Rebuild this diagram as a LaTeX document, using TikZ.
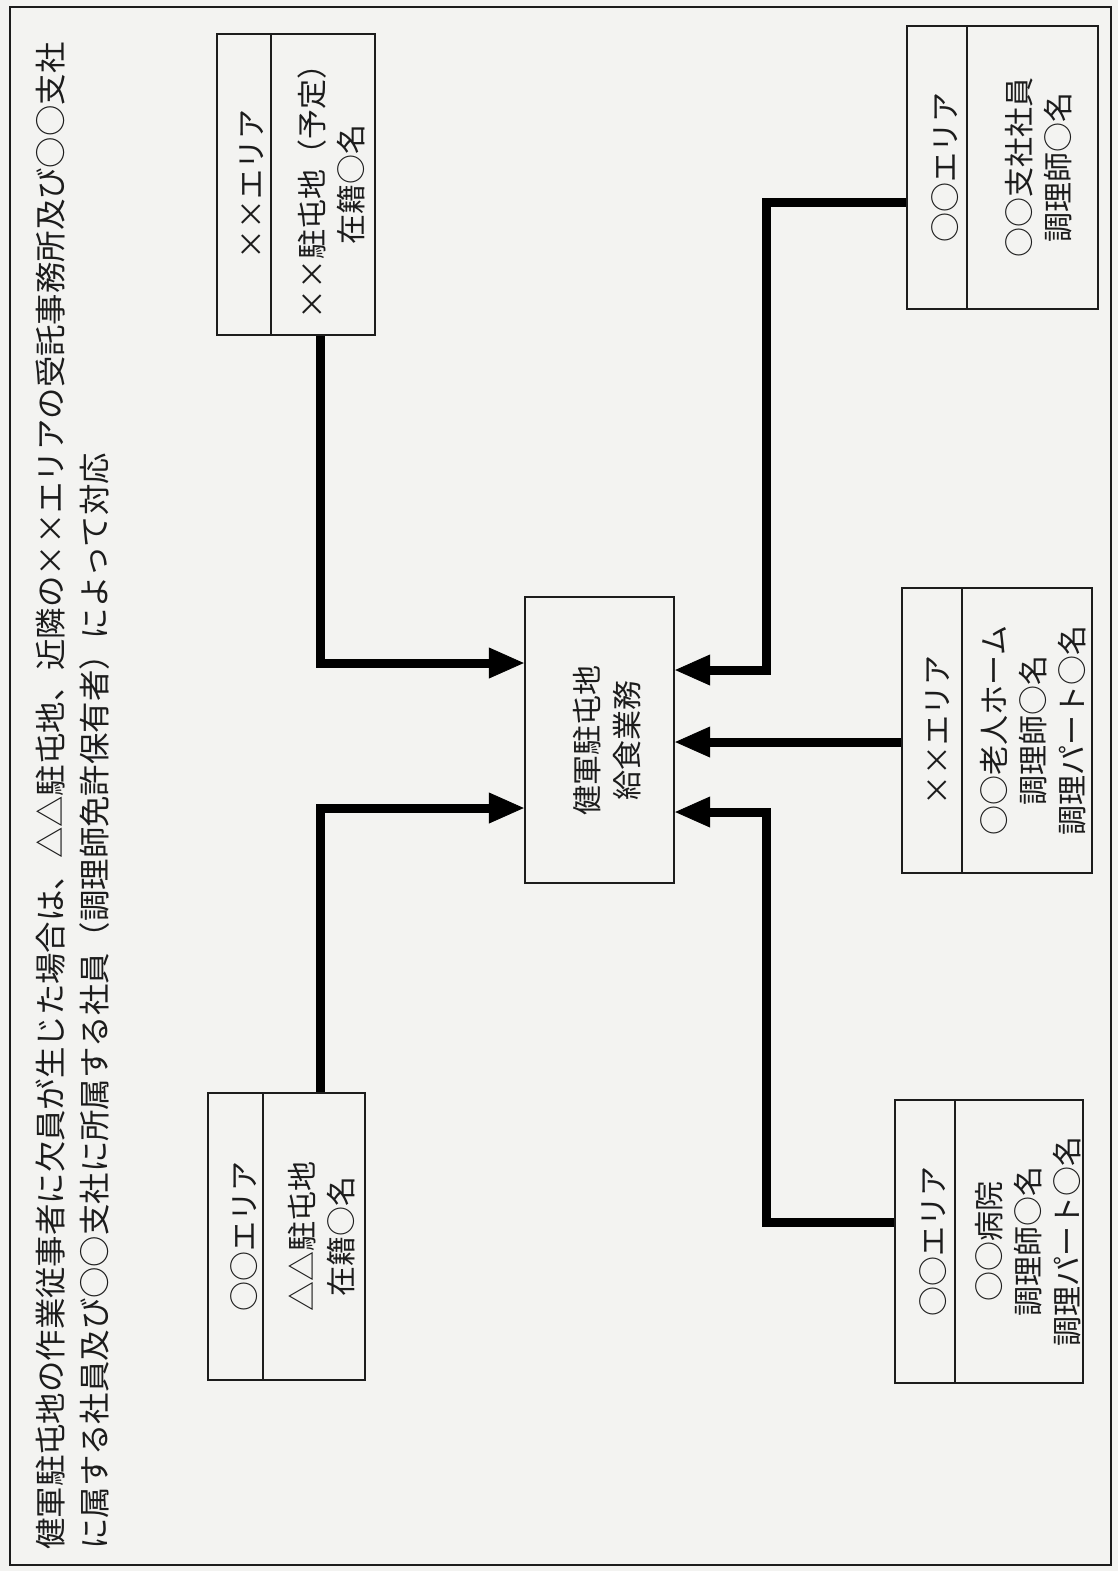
\documentclass[tikz,border=0pt]{standalone}
\usepackage{fontspec}
\setmainfont[CharacterWidth=Full]{Noto Sans CJK JP}
\usetikzlibrary{arrows.meta}
\definecolor{paper}{RGB}{243,243,241}
\definecolor{ink}{RGB}{28,28,28}
\begin{document}
\begin{tikzpicture}[x=0.5pt,y=-0.5pt,
  boxpart/.style={draw=ink,line width=1.2pt,inner sep=0pt},
  lbl/.style={rotate=90,align=center,inner sep=0pt,text=ink,font=\fontsize{15}{19.5}\selectfont},
  ttl/.style={rotate=90,anchor=west,inner sep=0pt,text=ink,font=\fontsize{15.7}{19}\selectfont},
  conn/.style={line width=4.5pt,draw=black,-{Triangle[length=17.5pt,width=15.5pt,line width=0.4pt]}}]
\useasboundingbox (0,0) rectangle (1118,1571);
\fill[paper] (0,0) rectangle (1118,1571);
\draw[ink,line width=1pt] (10,7) rectangle (1111,1565);

% title
\node[ttl] (t1) at (50,1550) {健軍駐屯地の作業従事者に欠員が生じた場合は、△△駐屯地、近隣の××エリアの受託事務所及び○○支社};
\node[ttl] (t2) at (95,1550) {に属する社員及び○○支社に所属する社員（調理師免許保有者）によって対応};

% center box
\node[boxpart,minimum width=74.5pt,minimum height=143pt] (cen) at (599.5,740) {};
\node[lbl,font=\fontsize{15}{20}\selectfont] (cent) at (607,740) {健軍駐屯地\\給食業務};

% box A
\node[boxpart,minimum width=27pt,minimum height=150.5pt] (Ah) at (244,184.5) {};
\node[boxpart,minimum width=52pt,minimum height=150.5pt] (Ab) at (323,184.5) {};
\node[lbl] (Aht) at (252,184.5) {××エリア};
\node[lbl] (Abt) at (331,184.5) {××駐屯地（予定）\\在籍○名};

% box B
\node[boxpart,minimum width=27.5pt,minimum height=143.5pt] (Bh) at (235.5,1236.5) {};
\node[boxpart,minimum width=51pt,minimum height=143.5pt] (Bb) at (314,1236.5) {};
\node[lbl] (Bht) at (244,1236.5) {○○エリア};
\node[lbl] (Bbt) at (322,1236.5) {△△駐屯地\\在籍○名};

% box C
\node[boxpart,minimum width=30pt,minimum height=141.5pt] (Ch) at (937,167.5) {};
\node[boxpart,minimum width=65.5pt,minimum height=141.5pt] (Cb) at (1032.5,167.5) {};
\node[lbl] (Cht) at (945,167.5) {○○エリア};
\node[lbl] (Cbt) at (1039,167.5) {○○支社社員\\調理師○名};

% box D
\node[boxpart,minimum width=30pt,minimum height=142.5pt] (Dh) at (932,730.5) {};
\node[boxpart,minimum width=65pt,minimum height=142.5pt] (Db) at (1027,730.5) {};
\node[lbl] (Dht) at (938,730.5) {××エリア};
\node[lbl] (Dbt) at (1033,730.5) {○○老人ホーム\\調理師○名\\調理パート○名};

% box E
\node[boxpart,minimum width=30pt,minimum height=141.5pt] (Eh) at (925,1241.5) {};
\node[boxpart,minimum width=64pt,minimum height=141.5pt] (Eb) at (1019,1241.5) {};
\node[lbl] (Eht) at (933,1241.5) {○○エリア};
\node[lbl] (Ebt) at (1028,1241.5) {○○病院\\調理師○名\\調理パート○名};

% arrow targets and bend
\coordinate (tA) at ([yshift=38.5pt]cen.west);
\coordinate (tB) at ([yshift=-34pt]cen.west);
\coordinate (tC) at ([yshift=35pt]cen.east);
\coordinate (tD) at ([yshift=-1pt]cen.east);
\coordinate (tE) at ([yshift=-36pt]cen.east);
\coordinate (bendR) at (766,740);

\draw[conn] ([xshift=-1.5pt]Ab.south) |- (tA);
\draw[conn] ([xshift=3pt]Bb.north) |- (tB);
\draw[conn] ([yshift=-17.5pt]Ch.west) -| (bendR |- tC) -- (tC);
\draw[conn] (Dh.west |- tD) -- (tD);
\draw[conn] ([yshift=9.5pt]Eh.west) -| (bendR |- tE) -- (tE);
\end{tikzpicture}
\end{document}
